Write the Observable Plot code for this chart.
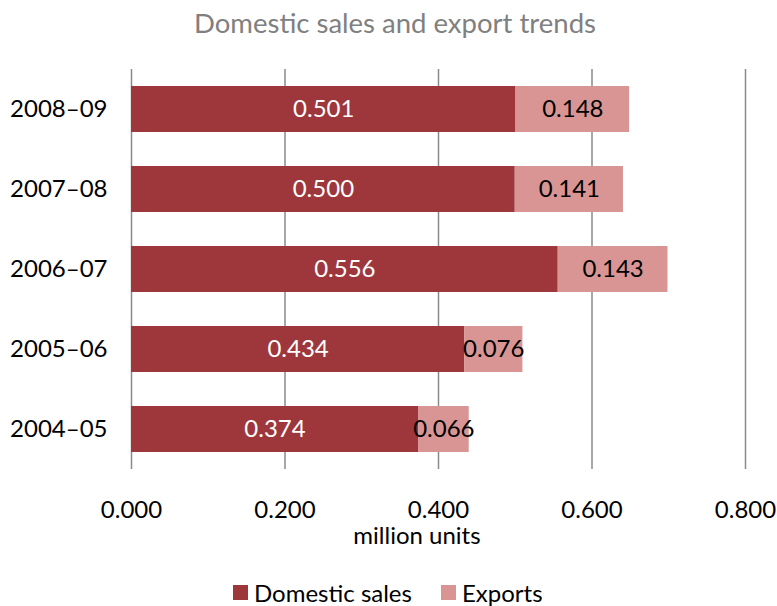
<!DOCTYPE html>
<html>
<head>
<meta charset="utf-8">
<script src="https://cdn.jsdelivr.net/npm/d3@7"></script>
<script src="https://cdn.jsdelivr.net/npm/@observablehq/plot@0.6"></script>
<style>
  html, body { margin: 0; padding: 0; background: #fff; }
  body { width: 777px; height: 606px; overflow: hidden; font-family: "Lato", sans-serif; }
  #title { height: 45px; line-height: 45px; font-size: 27.5px; color: #808080; text-align: center; padding-left: 13px; box-sizing: border-box; width: 777px; }
  #caption { height: 26px; line-height: 26px; font-size: 24px; color: #000; text-align: center; padding-left: 57px; box-sizing: border-box; width: 777px; }
  #legend { margin-top: 33px; padding-left: 233px; }
  .lg-swatches-wrap { min-height: 23px !important; margin: 0 !important; }
  .lg-swatch { margin-right: 29px !important; line-height: 23px; }
  .lg-swatch > svg { margin-right: 6px !important; }
</style>
</head>
<body>
<div id="title">Domestic sales and export trends</div>
<div id="chart"></div>
<div id="caption">million units</div>
<div id="legend"></div>
<script>
const years = ["2004–05", "2005–06", "2006–07", "2007–08", "2008–09"];
const domestic = [0.374, 0.434, 0.556, 0.500, 0.501];
const exportsV = [0.066, 0.076, 0.143, 0.141, 0.148];
const seriesNames = ["Domestic sales", "Exports"];
const seriesColors = ["#9e373c", "#d99594"];
const xTicks = [0, 0.2, 0.4, 0.6, 0.8];

const data = [];
years.forEach((y, i) => {
  data.push({year: y, type: seriesNames[0], value: domestic[i]});
  data.push({year: y, type: seriesNames[1], value: exportsV[i]});
});
const domLabels = years.map((y, i) => ({year: y, mid: domestic[i] / 2, value: domestic[i]}));
const expLabels = years.map((y, i) => ({year: y, mid: domestic[i] + exportsV[i] / 2, value: exportsV[i]}));
const fmt = d3.format(".3f");

const plot = Plot.plot({
  width: 777,
  height: 477,
  marginTop: 24,
  marginBottom: 53,
  marginLeft: 131,
  marginRight: 32,
  style: {fontFamily: "Lato", fontSize: "24px", color: "#000", background: "#fff"},
  x: {domain: [0, 0.8], ticks: xTicks, tickFormat: fmt, label: null},
  y: {domain: years.slice().reverse(), paddingInner: 0.425, paddingOuter: 0.2125, label: null},
  color: {domain: seriesNames, range: seriesColors},
  marks: [
    Plot.ruleX(xTicks, {stroke: "#8a8a8a", strokeWidth: 1.5}),
    Plot.barX(data, {x: "value", y: "year", fill: "type"}),
    Plot.text(domLabels, {x: "mid", y: "year", text: d => fmt(d.value), fill: "white", fontSize: 24}),
    Plot.text(expLabels, {x: "mid", y: "year", text: d => fmt(d.value), fill: "black", fontSize: 24}),
    Plot.axisX({ticks: xTicks, tickFormat: fmt, tickSize: 0, tickPadding: 31, label: null, fontSize: 24}),
    Plot.axisY({tickSize: 0, tickPadding: 24, label: null, fontSize: 24})
  ]
});
document.getElementById("chart").appendChild(plot);

const legend = Plot.legend({
  color: {domain: seriesNames, range: seriesColors},
  swatchSize: 15,
  className: "lg",
  style: {fontFamily: "Lato", fontSize: "24px", color: "#000"}
});
document.getElementById("legend").appendChild(legend);
</script>
</body>
</html>
